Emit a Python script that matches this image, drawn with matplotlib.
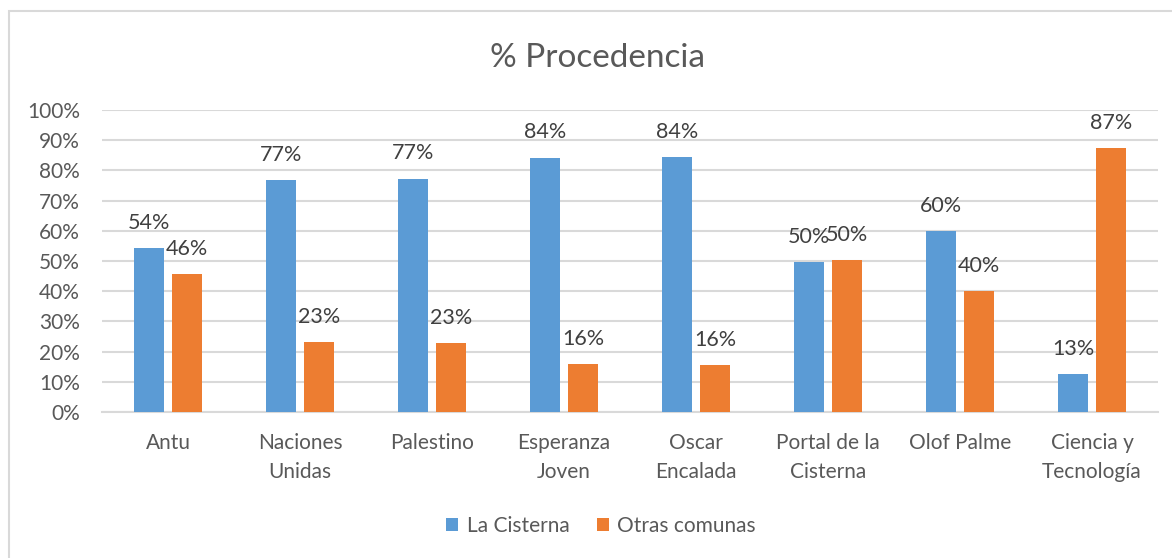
import numpy as np
import matplotlib
matplotlib.use("Agg")
import matplotlib.pyplot as plt
from matplotlib.patches import Rectangle

# Data
categories = ["Antu", "Naciones\nUnidas", "Palestino", "Esperanza\nJoven", "Oscar\nEncalada",
              "Portal de la\nCisterna", "Olof Palme", "Ciencia y\nTecnología"]
la_cisterna = [54.3, 76.8, 77.3, 84.2, 84.5, 49.6, 60.0, 12.6]
otras_comunas = [45.7, 23.2, 22.7, 15.8, 15.5, 50.4, 40.0, 87.4]
series_names = ["La Cisterna", "Otras comunas"]
title = "% Procedencia"

BLUE = "#5B9BD5"
ORANGE = "#ED7D31"
GRID = "#D9D9D9"
TEXT = "#595959"
LABEL = "#404040"

plt.rcParams['font.family'] = ['Lato', 'DejaVu Sans']


def main():
    fig = plt.figure(figsize=(11.72, 5.58), dpi=100)
    ax = fig.add_axes([102 / 1172, 1 - 412 / 558, (1158 - 102) / 1172, (412 - 110) / 558])

    # light chart border like the Excel chart area
    fig.patches.append(Rectangle((8.5 / 1172, -0.1), 1.2, (558 - 11.5) / 558 + 0.1,
                                 transform=fig.transFigure, fill=False,
                                 edgecolor=GRID, linewidth=1.5))

    x = np.arange(len(categories))
    w = 0.227
    off = 0.143
    b1 = ax.bar(x - off, la_cisterna, w, color=BLUE, label=series_names[0], zorder=3)
    b2 = ax.bar(x + off, otras_comunas, w, color=ORANGE, label=series_names[1], zorder=3)

    for bars in (b1, b2):
        for rect in bars:
            h = rect.get_height()
            ax.annotate(f"{h:.0f}%", (rect.get_x() + rect.get_width() / 2, h),
                        xytext=(0, 11), textcoords="offset points",
                        ha="center", va="bottom", fontsize=15.5, color=LABEL)

    ax.set_xlim(-0.5, len(categories) - 0.5)
    ax.set_ylim(0, 100)
    ax.set_yticks(np.arange(0, 101, 10))
    ax.set_yticklabels([f"{v}%" for v in range(0, 101, 10)])
    ax.set_xticks(x)
    ax.set_xticklabels(categories, linespacing=1.55)
    ax.tick_params(axis="both", length=0, labelsize=15, labelcolor=TEXT)
    ax.tick_params(axis="x", pad=15)
    ax.tick_params(axis="y", pad=16)
    for lbl in ax.get_yticklabels():
        lbl.set_horizontalalignment("right")

    ax.yaxis.grid(True, color=GRID, linewidth=1.5, zorder=0)
    for s in ["top", "right", "left"]:
        ax.spines[s].set_visible(False)
    ax.spines["bottom"].set_color(GRID)
    ax.spines["bottom"].set_linewidth(1.5)

    fig.text(597 / 1172, 1 - 58 / 558, title, ha="center", va="center",
             fontsize=24, color=TEXT)

    leg = fig.legend(loc="center", bbox_to_anchor=(601 / 1172, 1 - 526 / 558), ncol=2,
                     frameon=False, fontsize=15, handlelength=0.6, handleheight=0.6,
                     handletextpad=0.4, columnspacing=1.3)
    for t in leg.get_texts():
        t.set_color(TEXT)

    fig.savefig("out.png", dpi=100, facecolor="white")


if __name__ == "__main__":
    main()
